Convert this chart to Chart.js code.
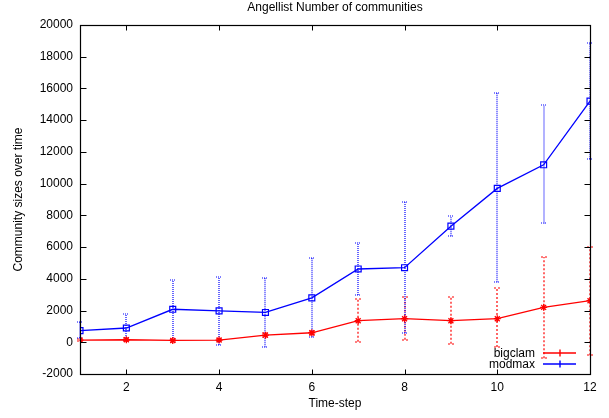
<!DOCTYPE html>
<html><head><meta charset="utf-8">
<script src="https://cdn.jsdelivr.net/npm/chart.js@4"></script>
<style>html,body{margin:0;padding:0;background:#fff}</style>
</head><body>
<canvas id="c" width="609" height="418"></canvas>
<script>
// ---- data ----
const steps = [1,2,3,4,5,6,7,8,9,10,11,12];
const seriesNames = ['bigclam','modmax'];
const bigclam     = [140, 160, 115, 140, 450, 600, 1360, 1485, 1360, 1485, 2200, 2620];
const bigclamLow  = [60, 80, 40, 60, 330, 480, 30, 160, -95, -300, -1010, -820];
const bigclamHigh = [220, 240, 190, 220, 570, 720, 2720, 2830, 2870, 3420, 5370, 5980];
const modmax      = [730, 900, 2080, 1980, 1880, 2800, 4620, 4700, 7320, 9700, 11190, 15200];
const modmaxLow   = [300, 150, 150, -170, -320, 320, 2980, 580, 6690, 3780, 7490, 11570];
const modmaxHigh  = [1260, 1780, 3900, 4120, 4050, 5320, 6270, 8830, 7950, 15700, 14940, 18860];
const xTickValues = [2,4,6,8,10,12];
const yTickValues = [-2000,0,2000,4000,6000,8000,10000,12000,14000,16000,18000,20000];
const titleText = 'Angellist Number of communities';
const xTitle = 'Time-step';
const yTitle = 'Community sizes over time';

const FONT = "'Liberation Sans', Arial, Helvetica, sans-serif";
const RED = '#ff0000', BLUE = '#0000ff';

const toPts = (vals) => vals.map((v,i)=>({x: steps[i], y: v}));

const errorBarPlugin = {
  id: 'errbars',
  beforeDatasetsDraw(chart){
    const {ctx, scales:{x,y}} = chart;
    ctx.save();
    chart.data.datasets.forEach(ds=>{
      ctx.strokeStyle = ds.errColor;
      ctx.lineWidth = 1.2;
      ctx.setLineDash(ds.errDash);
      steps.forEach((s,i)=>{
        const px = Math.round(x.getPixelForValue(s));
        const pl = y.getPixelForValue(ds.errLow[i]);
        const ph = y.getPixelForValue(ds.errHigh[i]);
        ctx.beginPath();
        ctx.moveTo(px, pl); ctx.lineTo(px, ph);
        ctx.moveTo(px-3, Math.round(pl)); ctx.lineTo(px+3, Math.round(pl));
        ctx.moveTo(px-3, Math.round(ph)); ctx.lineTo(px+3, Math.round(ph));
        ctx.stroke();
      });
    });
    ctx.restore();
  }
};

const framePlugin = {
  id: 'frame',
  afterDatasetsDraw(chart){
    const {ctx, chartArea:a, scales:{x,y}} = chart;
    ctx.save();
    ctx.strokeStyle = '#000';
    ctx.lineWidth = 1;
    ctx.setLineDash([]);
    const L = Math.round(a.left)+0.5, R = Math.round(a.right)+0.5, T = Math.round(a.top)+0.5, B = Math.round(a.bottom)+0.5;
    ctx.beginPath();
    xTickValues.forEach(v=>{
      const px = Math.round(x.getPixelForValue(v))+0.5;
      ctx.moveTo(px, B); ctx.lineTo(px, B-5);
      ctx.moveTo(px, T); ctx.lineTo(px, T+5);
    });
    yTickValues.forEach(v=>{
      const py = Math.round(y.getPixelForValue(v))+0.5;
      ctx.moveTo(L, py); ctx.lineTo(L+6, py);
      ctx.moveTo(R, py); ctx.lineTo(R-6, py);
    });
    ctx.stroke();
    ctx.lineWidth = 1.2;
    ctx.strokeRect(L, T, R-L, B-T);
    // legend
    ctx.font = '12px ' + FONT;
    ctx.textAlign = 'right';
    ctx.textBaseline = 'middle';
    chart.data.datasets.forEach((ds,i)=>{
      const ly = Math.round(a.bottom - 21 + i*10.6);
      ctx.fillStyle = '#000';
      ctx.fillText(ds.label, a.right - 55, ly + 0.5);
      ctx.strokeStyle = ds.errColor;
      ctx.lineWidth = 1.4;
      ctx.beginPath();
      ctx.moveTo(a.right-47, ly); ctx.lineTo(a.right-14, ly);
      const cx = Math.round(a.right - 30);
      ctx.moveTo(cx, ly-3.5); ctx.lineTo(cx, ly+3.5);
      ctx.stroke();
    });
    ctx.restore();
  }
};

new Chart(document.getElementById('c'), {
  type: 'line',
  data: {
    datasets: [
      { label: seriesNames[0], data: toPts(bigclam), errLow: bigclamLow, errHigh: bigclamHigh, errDash: [2,2], errColor: RED,
        borderColor: RED, backgroundColor: 'rgba(0,0,0,0)', borderWidth: 1.3,
        pointStyle: 'star', pointRadius: 3.5, pointBorderWidth: 1.3, pointBorderColor: RED, tension: 0 },
      { label: seriesNames[1], data: toPts(modmax), errLow: modmaxLow, errHigh: modmaxHigh, errDash: [1,1], errColor: BLUE,
        borderColor: BLUE, backgroundColor: 'rgba(0,0,0,0)', borderWidth: 1.3,
        pointStyle: 'rect', pointRadius: 4.2, pointBorderWidth: 1.2, pointBorderColor: BLUE, tension: 0 }
    ]
  },
  options: {
    responsive: false,
    animation: false,
    events: [],
    layout: { padding: { left: 0, right: 19, top: 0, bottom: 0 } },
    plugins: {
      legend: { display: false },
      tooltip: { enabled: false },
      title: { display: true, text: titleText, fullSize: false, color: '#000',
        font: { family: FONT, size: 12, weight: 'normal' }, padding: { top: 0.5, bottom: 10.1 } }
    },
    scales: {
      x: {
        type: 'linear', min: 1, max: 12,
        afterBuildTicks: s => { s.ticks = xTickValues.map(v=>({value:v})); },
        afterFit: s => { s.height = 44; },
        grid: { display: false, drawTicks: false },
        border: { display: false },
        ticks: { color: '#000', font: { family: FONT, size: 12 }, padding: 6, maxRotation: 0, autoSkip: false },
        title: { display: true, text: xTitle, color: '#000', font: { family: FONT, size: 12 }, padding: { top: 0, bottom: 7.4 } }
      },
      y: {
        type: 'linear', min: -2000, max: 20000,
        afterBuildTicks: s => { s.ticks = yTickValues.map(v=>({value:v})); },
        afterFit: s => { s.width = 80; },
        grid: { display: false, drawTicks: false },
        border: { display: false },
        ticks: { color: '#000', font: { family: FONT, size: 12 }, padding: 7, autoSkip: false,
          callback: v => String(v) },
        title: { display: true, text: yTitle, color: '#000', font: { family: FONT, size: 12 }, padding: { top: 11.3, bottom: 0 } }
      }
    }
  },
  plugins: [errorBarPlugin, framePlugin]
});
</script>
</body></html>
